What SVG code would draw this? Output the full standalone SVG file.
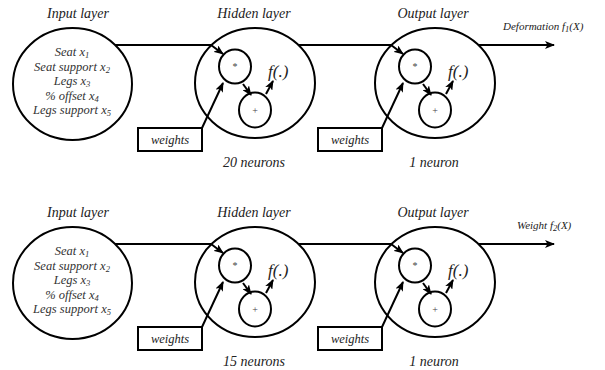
<svg xmlns="http://www.w3.org/2000/svg" width="605" height="370" viewBox="0 0 605 370" font-family="'Liberation Serif', 'Times New Roman', 'DejaVu Serif', serif">
  <defs>
    <marker id="arrow" viewBox="0 0 10 8" refX="9" refY="4" markerWidth="10" markerHeight="8" markerUnits="userSpaceOnUse" orient="auto">
      <path d="M0,0 L10,4 L0,8 L2.5,4 Z" fill="#000"/>
    </marker>
  </defs>
  <style>
    .ring { fill: none; stroke: #000; stroke-width: 2; }
    .box { fill: #fff; stroke: #000; stroke-width: 2; }
    .arr { fill: none; stroke: #000; stroke-width: 2; marker-end: url(#arrow); }
    text { font-family: 'Liberation Serif', 'Times New Roman', 'DejaVu Serif', serif; font-style: italic; fill: #222; }
    .title { font-size: 14px; text-anchor: middle; }
    .inp { font-size: 12.5px; text-anchor: middle; fill: #333; }
    .sub { font-size: 8.5px; }
    .lbl { font-size: 12.5px; text-anchor: middle; }
    .cnt { font-size: 14px; text-anchor: middle; }
    .fn { font-size: 17px; }
    .op { font-size: 10px; font-style: normal; text-anchor: middle; fill: #444; }
    .out { font-size: 11px; }
  </style>

  <!-- ===== Network 1: deformation ===== -->
  <g id="net1">
    <g id="input1">
      <text class="title" x="78" y="18">Input layer</text>
      <ellipse class="ring" cx="72.5" cy="84" rx="59.5" ry="56"/>
      <text class="inp" x="72" y="56">Seat <tspan>x</tspan><tspan class="sub" dy="2">1</tspan></text>
      <text class="inp" x="72" y="70.5">Seat support <tspan>x</tspan><tspan class="sub" dy="2">2</tspan></text>
      <text class="inp" x="72" y="85">Legs <tspan>x</tspan><tspan class="sub" dy="2">3</tspan></text>
      <text class="inp" x="72" y="99.5">% offset <tspan>x</tspan><tspan class="sub" dy="2">4</tspan></text>
      <text class="inp" x="72" y="114">Legs support <tspan>x</tspan><tspan class="sub" dy="2">5</tspan></text>
    </g>
    <g id="hidden1">
      <text class="title" x="254" y="18">Hidden layer</text>
      <ellipse class="ring" cx="255" cy="83" rx="60" ry="55"/>
      <ellipse class="ring" cx="235" cy="66.5" rx="16" ry="17"/>
      <text class="op" x="235" y="70">*</text>
      <ellipse class="ring" cx="255" cy="110" rx="16" ry="17.5"/>
      <text class="op" x="255" y="114">+</text>
      <text class="fn" x="268" y="77">f(.)</text>
      <text class="cnt" x="254" y="167">20 neurons</text>
    </g>
    <g id="weights1a">
      <rect class="box" x="138" y="128" width="64" height="23"/>
      <text class="lbl" x="170" y="144">weights</text>
    </g>
    <g id="output1">
      <text class="title" x="433" y="18">Output layer</text>
      <ellipse class="ring" cx="435" cy="83" rx="60" ry="55"/>
      <ellipse class="ring" cx="415" cy="66.5" rx="16" ry="17"/>
      <text class="op" x="415" y="70">*</text>
      <ellipse class="ring" cx="435" cy="110" rx="16" ry="17.5"/>
      <text class="op" x="435" y="114">+</text>
      <text class="fn" x="448" y="77">f(.)</text>
      <text class="cnt" x="434" y="167">1 neuron</text>
    </g>
    <g id="weights1b">
      <rect class="box" x="318" y="128" width="64" height="23"/>
      <text class="lbl" x="350" y="144">weights</text>
    </g>
    <g id="result1">
      <text class="out" x="503" y="30">Deformation <tspan>f</tspan><tspan class="sub" dy="2">1</tspan><tspan dy="-2">(X)</tspan></text>
    </g>
    <g id="links1">
      <polyline class="arr" points="115,45 211,45 223,54"/>
      <line class="arr" x1="202" y1="128" x2="223" y2="83"/>
      <line class="arr" x1="243" y1="84" x2="251" y2="95"/>
      <line class="arr" x1="266" y1="94" x2="273" y2="81"/>
      <polyline class="arr" points="298,45 391,45 403,54"/>
      <line class="arr" x1="382" y1="128" x2="403" y2="83"/>
      <line class="arr" x1="423" y1="84" x2="431" y2="95"/>
      <line class="arr" x1="446" y1="94" x2="453" y2="81"/>
      <line class="arr" x1="478" y1="45" x2="554" y2="45"/>
    </g>
  </g>

  <!-- ===== Network 2: weight ===== -->
  <g id="net2" transform="translate(0,199)">
    <g id="input2">
      <text class="title" x="78" y="18">Input layer</text>
      <ellipse class="ring" cx="72.5" cy="84" rx="59.5" ry="56"/>
      <text class="inp" x="72" y="56">Seat <tspan>x</tspan><tspan class="sub" dy="2">1</tspan></text>
      <text class="inp" x="72" y="70.5">Seat support <tspan>x</tspan><tspan class="sub" dy="2">2</tspan></text>
      <text class="inp" x="72" y="85">Legs <tspan>x</tspan><tspan class="sub" dy="2">3</tspan></text>
      <text class="inp" x="72" y="99.5">% offset <tspan>x</tspan><tspan class="sub" dy="2">4</tspan></text>
      <text class="inp" x="72" y="114">Legs support <tspan>x</tspan><tspan class="sub" dy="2">5</tspan></text>
    </g>
    <g id="hidden2">
      <text class="title" x="254" y="18">Hidden layer</text>
      <ellipse class="ring" cx="255" cy="83" rx="60" ry="55"/>
      <ellipse class="ring" cx="235" cy="66.5" rx="16" ry="17"/>
      <text class="op" x="235" y="70">*</text>
      <ellipse class="ring" cx="255" cy="110" rx="16" ry="17.5"/>
      <text class="op" x="255" y="114">+</text>
      <text class="fn" x="268" y="77">f(.)</text>
      <text class="cnt" x="254" y="167">15 neurons</text>
    </g>
    <g id="weights2a">
      <rect class="box" x="138" y="128" width="64" height="23"/>
      <text class="lbl" x="170" y="144">weights</text>
    </g>
    <g id="output2">
      <text class="title" x="433" y="18">Output layer</text>
      <ellipse class="ring" cx="435" cy="83" rx="60" ry="55"/>
      <ellipse class="ring" cx="415" cy="66.5" rx="16" ry="17"/>
      <text class="op" x="415" y="70">*</text>
      <ellipse class="ring" cx="435" cy="110" rx="16" ry="17.5"/>
      <text class="op" x="435" y="114">+</text>
      <text class="fn" x="448" y="77">f(.)</text>
      <text class="cnt" x="434" y="167">1 neuron</text>
    </g>
    <g id="weights2b">
      <rect class="box" x="318" y="128" width="64" height="23"/>
      <text class="lbl" x="350" y="144">weights</text>
    </g>
    <g id="result2">
      <text class="out" x="517" y="30">Weight <tspan>f</tspan><tspan class="sub" dy="2">2</tspan><tspan dy="-2">(X)</tspan></text>
    </g>
    <g id="links2">
      <polyline class="arr" points="115,45 211,45 223,54"/>
      <line class="arr" x1="202" y1="128" x2="223" y2="83"/>
      <line class="arr" x1="243" y1="84" x2="251" y2="95"/>
      <line class="arr" x1="266" y1="94" x2="273" y2="81"/>
      <polyline class="arr" points="298,45 391,45 403,54"/>
      <line class="arr" x1="382" y1="128" x2="403" y2="83"/>
      <line class="arr" x1="423" y1="84" x2="431" y2="95"/>
      <line class="arr" x1="446" y1="94" x2="453" y2="81"/>
      <line class="arr" x1="478" y1="45" x2="554" y2="45"/>
    </g>
  </g>
</svg>
